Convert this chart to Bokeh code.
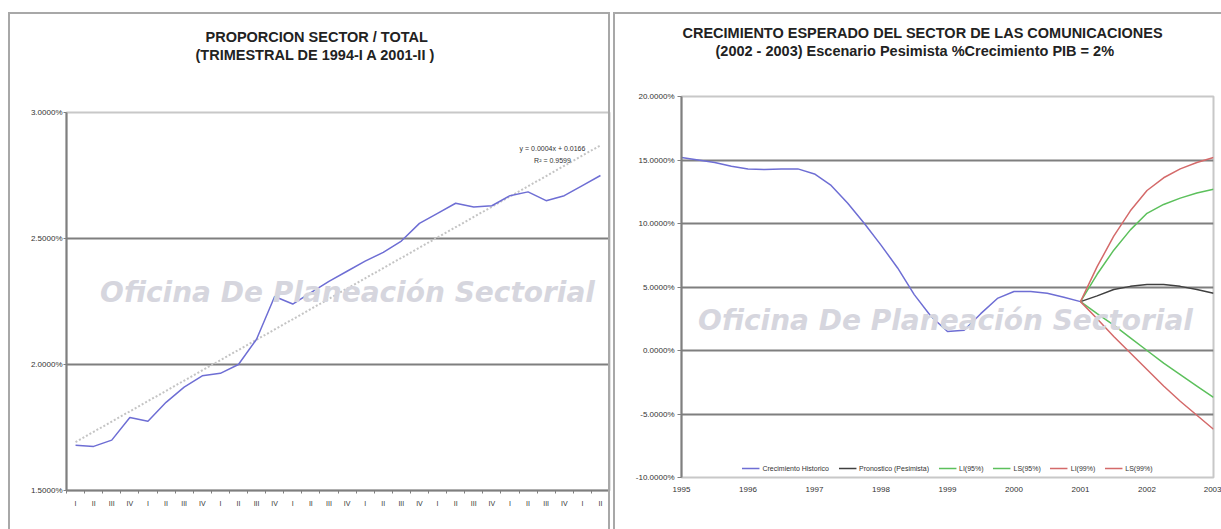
from bokeh.plotting import figure
from bokeh.layouts import row, column
from bokeh.models import (Range1d, FixedTicker, NumeralTickFormatter, Label,
                          Legend, LegendItem, Title, InlineStyleSheet)
from bokeh.embed import file_html
from bokeh.resources import INLINE
import numpy as np

# ---------------- data: left chart (quarterly share sector / total) -------------
quarter_labels = ["I", "II", "III", "IV"] * 7 + ["I", "II"]   # 1994-I .. 2001-II
sector_share = [0.01680, 0.01675, 0.01700, 0.01790, 0.01775, 0.01850, 0.01910, 0.01955,
                0.01965, 0.02000, 0.02100, 0.02270, 0.02240, 0.02285, 0.02330, 0.02370,
                0.02410, 0.02445, 0.02490, 0.02560, 0.02600, 0.02640, 0.02625, 0.02630,
                0.02670, 0.02685, 0.02650, 0.02670, 0.02710, 0.02750]
trend_text = ["y = 0.0004x + 0.0166", "R\u00b2 = 0.9599"]
left_ticks = [0.015, 0.020, 0.025, 0.030]
left_title = ["PROPORCION SECTOR / TOTAL", "(TRIMESTRAL DE 1994-I A 2001-II )"]

# ---------------- data: right chart (expected growth) ---------------------------
hist_growth = [0.1520, 0.1500, 0.1480, 0.1450, 0.1430, 0.1425, 0.1430, 0.1430,
               0.1390, 0.1300, 0.1160, 0.1000, 0.0830, 0.0650, 0.0440, 0.0270,
               0.0150, 0.0160, 0.0290, 0.0410, 0.0465, 0.0465, 0.0450, 0.0420,
               0.0385]                                   # 1995-I .. 2001-I
fc_pesimista = [0.0385, 0.0430, 0.0480, 0.0505, 0.0520, 0.0520, 0.0505, 0.0480, 0.0450]
li95 = [0.0385, 0.0290, 0.0200, 0.0100, 0.0000, -0.0100, -0.0190, -0.0280, -0.0370]
ls95 = [0.0385, 0.0600, 0.0790, 0.0950, 0.1080, 0.1150, 0.1200, 0.1240, 0.1270]
li99 = [0.0385, 0.0250, 0.0110, -0.0020, -0.0150, -0.0280, -0.0400, -0.0510, -0.0620]
ls99 = [0.0385, 0.0660, 0.0900, 0.1100, 0.1260, 0.1360, 0.1430, 0.1480, 0.1520]
years = [1995, 1996, 1997, 1998, 1999, 2000, 2001, 2002, 2003]
right_ticks = [-0.10, -0.05, 0.0, 0.05, 0.10, 0.15, 0.20]
legend_names = ["Crecimiento Historico", "Pronostico (Pesimista)", "LI(95%)",
                "LS(95%)", "LI(99%)", "LS(99%)"]
right_title = ["CRECIMIENTO ESPERADO DEL SECTOR DE LAS COMUNICACIONES",
               "(2002 - 2003) Escenario Pesimista %Crecimiento PIB = 2%"]
watermark = "Oficina De Planeación Sectorial"

FONT = "Liberation Sans"
GRID = "#7f7f7f"


def screen_label(fig, x, y, text, size, style="normal", font=FONT, color="#222222"):
    fig.add_layout(Label(x=x, y=y, x_units="screen", y_units="screen", text=text,
                         text_align="center", text_baseline="middle",
                         text_font=font, text_font_style=style,
                         text_font_size=size, text_color=color))


def panel_css(left, top, right):
    return InlineStyleSheet(css=(
        ":host::after { content: ''; position: absolute; pointer-events: none; "
        f"left: {left}px; top: {top}px; right: {right}px; bottom: -10px; "
        "border: 2px solid #a8a8a8; box-sizing: border-box; z-index: 10; }"))


def add_titles(fig, lines, offsets, spacer):
    # panels stack outward from the frame: spacer, second line, first line
    fig.add_layout(Title(text=" ", text_font_size="14px", standoff=spacer), "above")
    for t, off, gap in zip(reversed(lines), reversed(offsets), (1, 0)):
        fig.add_layout(Title(text=t, align="left", offset=off, standoff=gap,
                             text_font=FONT, text_font_style="bold",
                             text_font_size="14.5px", text_color="#222222"), "above")


# =============================== LEFT FIGURE ===================================
n = len(sector_share)
xq = [float(i) for i in range(1, n + 1)]
pl = figure(frame_width=543, frame_height=378, output_backend="svg",
            toolbar_location=None,
            x_range=Range1d(0.5, n + 0.5), y_range=Range1d(0.015, 0.030),
            min_border_left=66, min_border_right=2, min_border_top=112,
            min_border_bottom=36)
pl.stylesheets = [panel_css(8, 12, 1)]
pl.outline_line_color = "#c8c8c8"
pl.outline_line_width = 2
pl.xgrid.visible = False
pl.ygrid.grid_line_color = GRID
pl.ygrid.grid_line_width = 2
pl.yaxis.ticker = FixedTicker(ticks=left_ticks)
pl.yaxis.formatter = NumeralTickFormatter(format="0.0000%")
pl.xaxis.ticker = FixedTicker(ticks=xq, minor_ticks=[i + 0.5 for i in range(0, n + 1)])
pl.xaxis.major_label_overrides = {i + 1: lab for i, lab in enumerate(quarter_labels)}
for ax in (pl.xaxis, pl.yaxis):
    ax.axis_line_color = GRID
    ax.axis_line_width = 2
    ax.major_label_text_font = FONT
    ax.major_label_text_color = "#333333"
pl.xaxis.major_label_text_font_size = "7px"
pl.yaxis.major_label_text_font_size = "8px"
pl.xaxis.major_tick_out = 0
pl.xaxis.major_tick_in = 0
pl.xaxis.minor_tick_out = 3
pl.xaxis.minor_tick_in = 0
pl.xaxis.minor_tick_line_color = GRID
pl.xaxis.major_label_standoff = 6
pl.yaxis.major_tick_out = 3
pl.yaxis.major_tick_in = 0
pl.yaxis.minor_tick_line_color = None
pl.yaxis.major_tick_line_color = GRID
pl.yaxis.major_label_standoff = 1

screen_label(pl, 281, 198, watermark, "28px", "bold italic", "DejaVu Sans", "#d6d6de")

slope, intercept = np.polyfit(xq, sector_share, 1)
pl.line(xq, [slope * x + intercept for x in xq], line_color="#c4c4c4", line_width=2,
        line_dash="2 2")
pl.line(xq, sector_share, line_color="#6e6ed4", line_width=1.5)

for k, t in enumerate(trend_text):
    screen_label(pl, 486, 342 - 12 * k, t, "7px", color="#333333")
add_titles(pl, left_title, (139, 129), 31)

# =============================== RIGHT FIGURE ==================================
hx = [years[0] + 0.25 * i for i in range(len(hist_growth))]
fx = [hx[-1] + 0.25 * i for i in range(len(fc_pesimista))]

pr = figure(frame_width=532, frame_height=381, output_backend="svg",
            toolbar_location=None,
            x_range=Range1d(years[0], years[-1]), y_range=Range1d(-0.10, 0.20),
            min_border_left=70, min_border_right=8, min_border_top=96,
            min_border_bottom=49)
pr.stylesheets = [panel_css(2, 12, -4)]
pr.outline_line_color = "#c8c8c8"
pr.outline_line_width = 2
pr.xgrid.visible = False
pr.ygrid.grid_line_color = GRID
pr.ygrid.grid_line_width = 2
pr.yaxis.ticker = FixedTicker(ticks=right_ticks)
pr.yaxis.formatter = NumeralTickFormatter(format="0.0000%")
pr.xaxis.ticker = FixedTicker(ticks=years)
pr.xaxis.major_label_overrides = {y: str(y) for y in years}
for ax in (pr.xaxis, pr.yaxis):
    ax.major_label_text_font = FONT
    ax.major_label_text_font_size = "8px"
    ax.major_label_text_color = "#333333"
    ax.minor_tick_line_color = None
pr.yaxis.axis_line_color = GRID
pr.yaxis.axis_line_width = 2
pr.yaxis.major_tick_line_color = GRID
pr.yaxis.major_tick_out = 4
pr.yaxis.major_tick_in = 0
pr.yaxis.major_label_standoff = 3
pr.xaxis.axis_line_color = "#c8c8c8"
pr.xaxis.major_tick_line_color = None
pr.xaxis.major_tick_out = 0
pr.xaxis.major_tick_in = 0
pr.xaxis.major_label_standoff = 9

screen_label(pr, 264, 157, watermark, "28px", "bold italic", "DejaVu Sans", "#d6d6de")

r_hist = pr.line(hx, hist_growth, line_color="#6e6ed4", line_width=1.5)
r_fc = pr.line(fx, fc_pesimista, line_color="#404040", line_width=1.5)
r_li95 = pr.line(fx, li95, line_color="#5cc05c", line_width=1.5)
r_ls95 = pr.line(fx, ls95, line_color="#5cc05c", line_width=1.5)
r_li99 = pr.line(fx, li99, line_color="#d46a6a", line_width=1.5)
r_ls99 = pr.line(fx, ls99, line_color="#d46a6a", line_width=1.5)

legend = Legend(items=[LegendItem(label=nm, renderers=[r]) for nm, r in
                       zip(legend_names, [r_hist, r_fc, r_li95, r_ls95, r_li99, r_ls99])],
                orientation="horizontal", label_text_font=FONT,
                label_text_font_size="7px", label_text_color="#333333",
                glyph_width=18, glyph_height=8, label_height=10, label_standoff=3,
                spacing=9, padding=2, margin=4, border_line_color=None,
                background_fill_alpha=0, location="bottom_center")
pr.add_layout(legend)
add_titles(pr, right_title, (1, 34), 19)

layout = row(pl, column(pr))
open("out.html", "w").write(file_html(layout, INLINE))
